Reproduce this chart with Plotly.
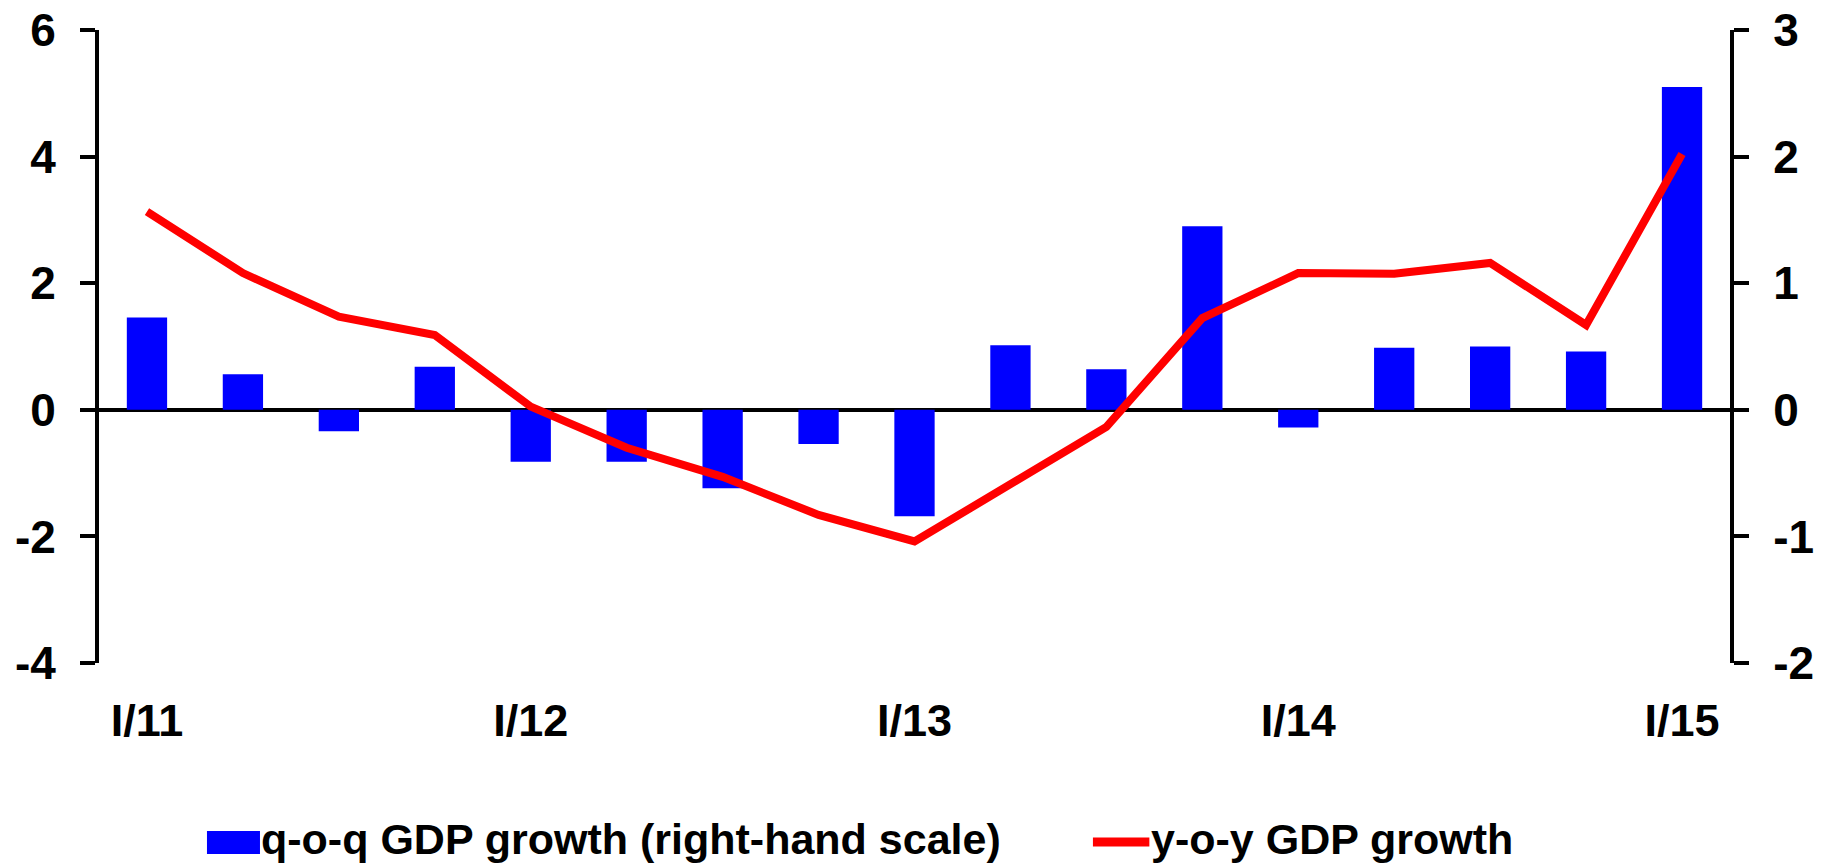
import plotly.graph_objects as go

quarters = ["I/11", "II/11", "III/11", "IV/11", "I/12", "II/12", "III/12", "IV/12",
            "I/13", "II/13", "III/13", "IV/13", "I/14", "II/14", "III/14", "IV/14", "I/15"]
qoq_growth = [0.73, 0.28, -0.17, 0.34, -0.41, -0.41, -0.62, -0.27, -0.84,
              0.51, 0.32, 1.45, -0.14, 0.49, 0.50, 0.46, 2.55]
yoy_growth = [3.13, 2.16, 1.47, 1.18, 0.05, -0.60, -1.06, -1.66, -2.08,
              -1.18, -0.27, 1.45, 2.16, 2.15, 2.32, 1.34, 4.04]
tick_labels = ["I/11", "I/12", "I/13", "I/14", "I/15"]
left_ticks = [-4, -2, 0, 2, 4, 6]
right_ticks = [-2, -1, 0, 1, 2, 3]
qoq_name = "q-o-q GDP growth (right-hand scale)"
yoy_name = "y-o-y GDP growth"

xpos = list(range(len(quarters)))
tick_pos = [quarters.index(t) for t in tick_labels]

FONT = "Liberation Sans, Arial, sans-serif"

fig = go.Figure()
fig.add_trace(go.Bar(x=xpos, y=qoq_growth, name=qoq_name, marker_color="#0000FF",
                     marker_line_width=0, width=0.42, yaxis="y", showlegend=False))
fig.add_trace(go.Scatter(x=xpos, y=yoy_growth, name=yoy_name, mode="lines",
                         line=dict(color="#FF0000", width=8), yaxis="y2", showlegend=False))

axis_common = dict(showgrid=False, showline=True, linecolor="black", linewidth=4,
                   ticks="outside", ticklen=15, tickwidth=4, tickcolor="black",
                   tickfont=dict(family=FONT, size=46, color="black", weight="bold"),
                   ticklabelstandoff=15, ticklabeloverflow="allow", automargin=False)

fig.update_layout(
    width=1829, height=867,
    margin=dict(l=99, r=99, t=30, b=204, autoexpand=False),
    paper_bgcolor="white", plot_bgcolor="white",
    xaxis=dict(range=[-0.5, len(quarters) - 0.5], tickvals=tick_pos, ticktext=tick_labels,
               showgrid=False, showline=False, zeroline=False, ticks="", automargin=False,
               tickfont=dict(family=FONT, size=45, color="black", weight="bold"),
               ticklabelstandoff=27),
    yaxis=dict(side="right", range=[-2, 3], tickvals=right_ticks,
               ticktext=[str(v) for v in right_ticks], zeroline=True, zerolinecolor="black",
               zerolinewidth=4, layer="above traces", **axis_common),
    yaxis2=dict(side="left", overlaying="y", range=[-4, 6], tickvals=left_ticks,
                ticktext=[str(v) for v in left_ticks], zeroline=False, **axis_common),
    showlegend=False,
)

# manual legend (plot area spans 1631 x 633 px)
fig.add_shape(type="rect", xref="paper", yref="paper", x0=0.0662, x1=0.0987,
              y0=-0.3017, y1=-0.2654, fillcolor="#0000FF", line_width=0)
fig.add_shape(type="line", xref="paper", yref="paper", x0=0.6094, x1=0.6440,
              y0=-0.2828, y1=-0.2828, line=dict(color="#FF0000", width=9))
fig.add_annotation(xref="paper", yref="paper", x=0.0981, y=-0.2780, xanchor="left",
                   yanchor="middle", text=qoq_name, showarrow=False,
                   font=dict(family=FONT, size=43, color="black", weight="bold"))
fig.add_annotation(xref="paper", yref="paper", x=0.6438, y=-0.2780, xanchor="left",
                   yanchor="middle", text=yoy_name, showarrow=False,
                   font=dict(family=FONT, size=43, color="black", weight="bold"))

fig.write_html("out.html", config={"displayModeBar": False},
               post_script="document.body.style.margin='0';document.body.style.overflow='hidden';")
